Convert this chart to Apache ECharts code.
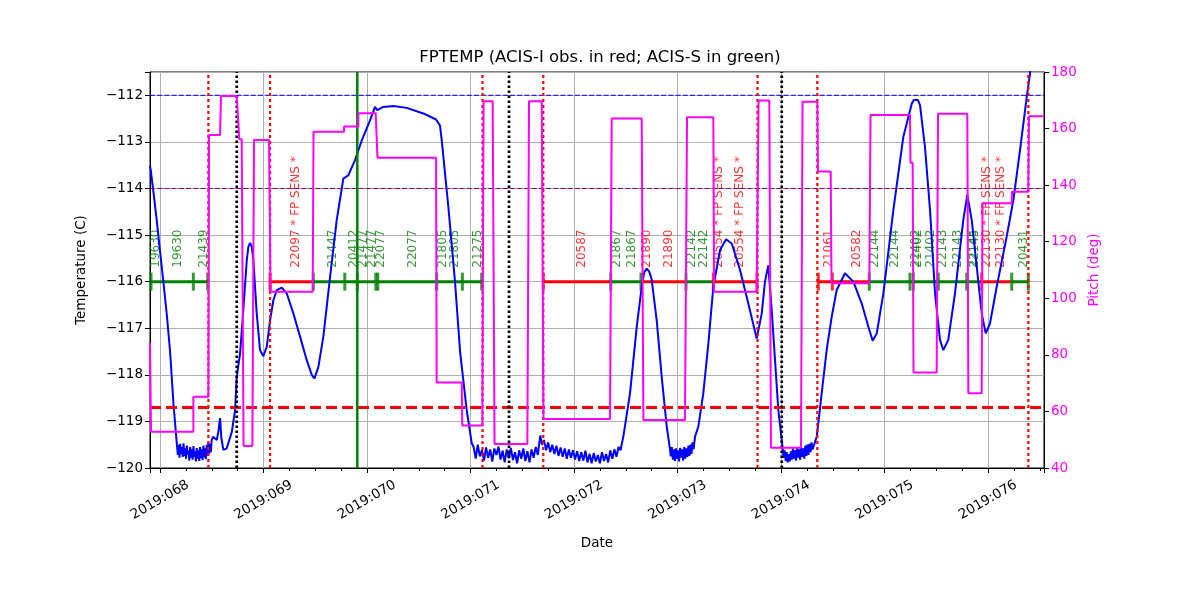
<!DOCTYPE html>
<html><head><meta charset="utf-8">
<script src="https://cdn.jsdelivr.net/npm/echarts@6/dist/echarts.min.js"></script>
<style>html,body{margin:0;padding:0;background:#fff}#c{width:1200px;height:600px}</style>
</head><body><div id="c"></div>
<script>
const TITLE = 'FPTEMP (ACIS-I obs. in red; ACIS-S in green)';
const X_MIN = 67.903, X_MAX = 76.541;
const T_MIN = -120, T_MAX = -111.5;
const PITCH_MIN = 40, PITCH_MAX = 180;
const T_PLAN_LIMIT = -112;
const T_MID_LINE = -114;
const T_LOW_LINE = -118.7;
const OBS_LEVEL = -116;

// FPTEMP (day of year 2019, deg C)
const TEMP = [
[67.903,-113.52],[67.910,-113.6],[67.935,-114.05],[67.968,-114.68],[68.000,-115.35],[68.032,-116.0],[68.065,-116.7],[68.097,-117.5],[68.129,-118.6],[68.161,-119.45],
[68.165,-119.45],[68.172,-119.72],[68.180,-119.50],[68.188,-119.78],[68.195,-119.48],[68.203,-119.70],[68.211,-119.55],[68.219,-119.76],[68.227,-119.47],[68.235,-119.74],[68.243,-119.58],[68.251,-119.80],[68.259,-119.52],[68.267,-119.71],[68.275,-119.62],[68.283,-119.84],[68.291,-119.55],[68.299,-119.78],[68.307,-119.60],[68.315,-119.82],[68.323,-119.53],[68.331,-119.76],[68.339,-119.64],[68.347,-119.86],[68.355,-119.57],[68.363,-119.80],[68.371,-119.62],[68.379,-119.85],[68.387,-119.55],[68.395,-119.79],[68.403,-119.60],[68.411,-119.83],[68.419,-119.52],[68.427,-119.77],[68.435,-119.58],[68.443,-119.81],[68.451,-119.50],[68.459,-119.74],[68.467,-119.45],[68.475,-119.70],[68.483,-119.48],[68.491,-119.66],[68.499,-119.40],
[68.512,-119.33],[68.548,-119.40],[68.565,-119.2],[68.580,-118.93],[68.592,-119.35],[68.612,-119.61],[68.644,-119.58],[68.693,-119.23],[68.725,-118.76],[68.741,-118.04],[68.773,-117.55],[68.805,-116.6],[68.838,-115.54],[68.854,-115.25],[68.870,-115.17],[68.886,-115.25],[68.902,-115.54],[68.934,-116.68],[68.966,-117.47],[68.998,-117.6],[69.031,-117.4],[69.063,-116.83],[69.095,-116.4],[69.128,-116.18],[69.176,-116.13],[69.224,-116.25],[69.288,-116.68],[69.353,-117.18],[69.417,-117.68],[69.466,-118.0],[69.491,-118.08],[69.530,-117.83],[69.578,-117.18],[69.643,-115.9],[69.707,-114.68],[69.771,-113.79],[69.819,-113.72],[69.884,-113.39],[69.949,-112.97],[70.029,-112.54],[70.077,-112.25],[70.099,-112.32],[70.157,-112.25],[70.254,-112.23],[70.383,-112.27],[70.544,-112.39],[70.667,-112.52],[70.705,-112.65],[70.722,-112.97],[70.786,-114.4],[70.850,-116.0],[70.899,-117.5],[70.963,-118.76],[71.012,-119.47],
[71.03,-119.55],[71.05,-119.80],[71.07,-119.50],[71.09,-119.75],[71.11,-119.62],[71.13,-119.84],[71.15,-119.56],[71.17,-119.78],[71.19,-119.60],[71.21,-119.86],[71.23,-119.58],[71.25,-119.72],[71.27,-119.54],[71.29,-119.82],[71.31,-119.63],[71.33,-119.88],[71.35,-119.60],[71.37,-119.79],[71.39,-119.57],[71.41,-119.83],[71.43,-119.66],[71.45,-119.90],[71.47,-119.62],[71.49,-119.80],[71.51,-119.58],[71.53,-119.85],[71.55,-119.64],[71.57,-119.88],[71.59,-119.60],[71.61,-119.78],[71.63,-119.55],[71.65,-119.72],[71.665,-119.45],[71.675,-119.30],[71.69,-119.50],
[71.71,-119.40],[71.73,-119.62],[71.75,-119.45],[71.77,-119.66],[71.79,-119.50],[71.81,-119.70],[71.83,-119.52],[71.85,-119.74],[71.87,-119.56],[71.89,-119.76],[71.91,-119.58],[71.93,-119.80],[71.95,-119.60],[71.97,-119.78],[71.99,-119.62],[72.01,-119.82],[72.03,-119.64],[72.05,-119.85],[72.07,-119.66],[72.09,-119.84],[72.11,-119.63],[72.13,-119.88],[72.15,-119.70],[72.17,-119.90],[72.19,-119.68],[72.21,-119.86],[72.23,-119.72],[72.25,-119.90],[72.27,-119.66],[72.29,-119.85],[72.31,-119.70],[72.33,-119.88],[72.35,-119.62],[72.37,-119.80],[72.39,-119.60],[72.41,-119.76],[72.43,-119.55],[72.45,-119.62],[72.46,-119.50],
[72.476,-119.33],[72.541,-118.4],[72.606,-116.97],[72.654,-116.11],[72.678,-115.8],[72.702,-115.72],[72.726,-115.78],[72.750,-115.95],[72.799,-116.83],[72.847,-118.04],[72.896,-119.11],[72.928,-119.61],
[72.935,-119.75],[72.945,-119.55],[72.955,-119.82],[72.965,-119.60],[72.975,-119.85],[72.985,-119.58],[72.995,-119.80],[73.005,-119.62],[73.015,-119.86],[73.025,-119.57],[73.035,-119.78],[73.045,-119.60],[73.055,-119.84],[73.065,-119.55],[73.075,-119.80],[73.085,-119.58],[73.095,-119.76],[73.105,-119.52],[73.115,-119.74],[73.125,-119.50],[73.135,-119.70],[73.145,-119.45],[73.155,-119.60],
[73.169,-119.33],[73.201,-119.11],[73.249,-118.4],[73.298,-117.33],[73.346,-116.11],[73.411,-115.32],[73.469,-115.09],[73.524,-115.18],[73.604,-115.75],[73.684,-116.47],[73.765,-117.22],[73.814,-116.68],[73.845,-116.0],[73.877,-115.65],[73.910,-116.61],[73.942,-117.68],[73.974,-118.76],[74.007,-119.4],
[74.015,-119.55],[74.025,-119.78],[74.035,-119.62],[74.045,-119.85],[74.055,-119.66],[74.065,-119.88],[74.075,-119.70],[74.085,-119.86],[74.095,-119.64],[74.105,-119.82],[74.115,-119.58],[74.125,-119.80],[74.135,-119.62],[74.145,-119.84],[74.155,-119.56],[74.165,-119.78],[74.175,-119.60],[74.185,-119.82],[74.195,-119.55],[74.205,-119.76],[74.215,-119.58],[74.225,-119.80],[74.235,-119.52],[74.245,-119.74],[74.255,-119.50],[74.265,-119.72],[74.275,-119.48],[74.285,-119.66],[74.295,-119.45],[74.305,-119.60],
[74.345,-119.33],[74.393,-118.4],[74.441,-117.47],[74.490,-116.75],[74.538,-116.18],[74.618,-115.82],[74.699,-116.0],[74.780,-116.47],[74.844,-116.97],[74.886,-117.27],[74.925,-117.11],[74.989,-116.25],[75.085,-114.47],[75.182,-112.89],[75.263,-112.18],[75.282,-112.1],[75.301,-112.06],[75.322,-112.1],[75.343,-112.21],[75.391,-113.11],[75.440,-114.47],[75.488,-116.25],[75.536,-117.25],[75.568,-117.47],[75.616,-117.25],[75.681,-116.25],[75.761,-114.68],[75.800,-114.14],[75.843,-114.68],[75.891,-115.68],[75.939,-116.68],[75.978,-117.11],[76.019,-116.9],[76.084,-116.11],[76.180,-115.04],[76.245,-114.25],[76.309,-113.18],[76.374,-112.04],[76.406,-111.53],[76.425,-111.2]
];

// Pitch (deg)
const PITCH = [
[67.903,84.2],[67.913,52.8],[68.322,52.8],[68.322,65.2],[68.467,65.2],[68.473,157.7],[68.580,157.7],[68.589,171.5],[68.741,171.5],[68.766,156.2],[68.789,156.2],[68.807,47.8],[68.892,47.8],[68.908,156.0],[69.053,156.0],[69.068,102.3],[69.475,102.3],[69.483,158.9],[69.778,158.9],[69.778,160.7],[69.916,160.7],[69.916,165.4],[70.084,165.4],[70.101,149.7],[70.667,149.7],[70.673,70.2],[70.915,70.2],[70.920,55.0],[71.114,55.0],[71.126,169.7],[71.214,169.7],[71.232,48.5],[71.549,48.5],[71.565,169.7],[71.688,169.7],[71.705,57.3],[72.348,57.3],[72.364,163.6],[72.654,163.6],[72.670,57.0],[73.072,57.0],[73.092,164.0],[73.346,164.0],[73.353,102.3],[73.765,102.3],[73.783,169.9],[73.887,169.9],[73.903,47.2],[74.193,47.2],[74.208,169.5],[74.351,169.5],[74.357,144.8],[74.480,144.8],[74.488,105.3],[74.853,105.3],[74.865,164.8],[75.246,164.8],[75.251,147.9],[75.272,147.9],[75.280,73.8],[75.504,73.8],[75.517,165.2],[75.800,165.2],[75.810,66.4],[75.939,66.4],[75.947,133.6],[76.229,133.6],[76.232,137.7],[76.389,137.7],[76.396,164.4],[76.541,164.4]
];

// Observation intervals [start, stop]
const OBS_ACIS_S = [[67.913,68.467],[69.475,71.113],[72.355,72.657],[73.079,73.346],[74.853,75.939],[76.229,76.389]];
const OBS_ACIS_I = [[69.063,69.475],[71.703,72.355],[72.657,73.079],[73.346,73.768],[74.351,74.853],[75.939,76.229]];
const TICKS_ACIS_S = [67.913,68.322,68.461,69.481,69.785,69.906,70.085,70.104,70.673,70.921,71.108,72.355,72.647,73.082,74.853,75.246,75.278,75.520,75.794,76.229,76.389];
const TICKS_ACIS_I = [69.063,71.703,73.346,73.768,74.360,74.496,75.939];
const LABELS_ACIS_S = [
[67.961,'19630'],[68.177,'19630'],[68.425,'21439'],[69.669,'21447'],[69.874,'20412'],[69.958,'21477'],[70.045,'21477'],[70.132,'22077'],[70.442,'22077'],[70.731,'21805'],[70.850,'21805'],[71.075,'21275'],[72.413,'21867'],[72.558,'21867'],[73.137,'22142'],[73.256,'22142'],[74.908,'22144'],[75.101,'22144'],[75.304,'22402'],[75.319,'21402'],[75.446,'21402'],[75.568,'22143'],[75.713,'22143'],[75.850,'22145'],[75.870,'22145'],[76.348,'20431']
];
const LABELS_ACIS_I = [
[69.311,'22097 * FP SENS *'],[72.074,'20587'],[72.708,'21890'],[72.921,'21890'],[73.401,'20554 * FP SENS *'],[73.604,'20554 * FP SENS *'],[74.467,'21061'],[74.737,'20582'],[75.993,'22130 * FP SENS *'],[76.126,'22130 * FP SENS *']
];
const RED_VLINES = [68.467,69.063,71.116,71.703,73.773,74.351,76.390];
const BLACK_VLINES = [68.741,71.372,74.007];
const GREEN_VLINES = [69.906];

const FONT = 'DejaVu Sans';
const GREEN = '#008000', RED = '#ff0000', MAGENTA = '#ff00ff', BLUE = '#0000ff';

const series = [];
function hline(v, color, width, dash, z) {
  series.push({type:'line', xAxisIndex:0, yAxisIndex:0, data:[[X_MIN,v],[X_MAX,v]], symbol:'none', silent:true, z:z,
    lineStyle:{color:color, width:width, type:dash}, animation:false});
}
function vline(d, color, width, dash, z) {
  series.push({type:'line', xAxisIndex:0, yAxisIndex:0, data:[[d,T_MIN],[d,T_MAX]], symbol:'none', silent:true, z:z,
    lineStyle:{color:color, width:width, type:dash}, animation:false});
}
OBS_ACIS_S.forEach(s => series.push({type:'line', data:[[s[0],OBS_LEVEL],[s[1],OBS_LEVEL]], symbol:'none', z:2, lineStyle:{color:GREEN,width:3}}));
OBS_ACIS_I.forEach(s => series.push({type:'line', data:[[s[0],OBS_LEVEL],[s[1],OBS_LEVEL]], symbol:'none', z:2, lineStyle:{color:RED,width:3}}));
series.push({type:'scatter', data:TICKS_ACIS_S.map(d=>[d,OBS_LEVEL]), symbol:'rect', symbolSize:[3,18], itemStyle:{color:GREEN}, z:2});
series.push({type:'scatter', data:TICKS_ACIS_I.map(d=>[d,OBS_LEVEL]), symbol:'rect', symbolSize:[3,18], itemStyle:{color:RED}, z:2});
function labels(list, color) {
  series.push({type:'scatter', data:list.map(l=>({value:[l[0], OBS_LEVEL+0.3], name:l[1]})), symbol:'circle', symbolSize:2,
    itemStyle:{color:'rgba(0,0,0,0)'}, z:2,
    label:{show:true, position:'inside', formatter:p=>p.name, rotate:90, align:'left', verticalAlign:'middle', color:color, fontSize:12, fontFamily:FONT}});
}
labels(LABELS_ACIS_S, GREEN);
labels(LABELS_ACIS_I, RED);
series.push({type:'line', name:'FPTEMP', data:TEMP, symbol:'none', z:3, lineStyle:{color:BLUE, width:2}});
hline(T_PLAN_LIMIT, BLUE, 1, [5,2.2], 4);
hline(T_MID_LINE, '#800080', 1, [5,2.2], 4);
hline(T_LOW_LINE, RED, 3, [11,5], 4);
RED_VLINES.forEach(d => vline(d, RED, 2.2, [3,3], 4));
BLACK_VLINES.forEach(d => vline(d, '#000', 2.7, [2.5,2.5], 4));
GREEN_VLINES.forEach(d => vline(d, GREEN, 2.5, 'solid', 4));
series.push({type:'line', name:'Pitch', yAxisIndex:1, data:PITCH, symbol:'none', z:5, lineStyle:{color:MAGENTA, width:2}});

const chart = echarts.init(document.getElementById('c'));
chart.setOption({
  animation:false,
  backgroundColor:'#fff',
  textStyle:{fontFamily:FONT},
  title:{text:TITLE, left:'center', top:49, padding:0, textStyle:{fontFamily:FONT, fontSize:16.5, fontWeight:'normal', color:'#000'}},
  grid:{left:150, right:156, top:72, bottom:132, show:true, borderColor:'#000', borderWidth:1, backgroundColor:'transparent'},
  xAxis:{type:'value', min:X_MIN, max:X_MAX, splitNumber:8, name:'Date', nameLocation:'middle', nameGap:68,
    nameTextStyle:{fontSize:13.5, color:'#000', fontFamily:FONT},
    axisLine:{show:true, onZero:false, lineStyle:{color:'#000'}},
    axisTick:{show:true, length:5, lineStyle:{color:'#000'}},
    minorTick:{show:true, splitNumber:4, length:3, lineStyle:{color:'#000'}},
    splitLine:{show:true, lineStyle:{color:'#b0b0b0', width:1}},
    axisLabel:{rotate:30, align:'center', verticalAlign:'middle', margin:32, fontSize:13.5, color:'#000', fontFamily:FONT,
      formatter:v => Math.abs(v-Math.round(v))>1e-6 ? '' : '2019:' + String(Math.round(v)).padStart(3,'0')}},
  yAxis:[
    {type:'value', min:T_MIN, max:T_MAX, interval:1, position:'left', name:'Temperature (C)', nameLocation:'middle', nameGap:62, nameRotate:90,
      nameTextStyle:{fontSize:13.5, color:'#000', fontFamily:FONT},
      axisLine:{show:true, lineStyle:{color:'#000'}}, axisTick:{show:true, length:5, lineStyle:{color:'#000'}},
      splitLine:{show:true, lineStyle:{color:'#b0b0b0', width:1}},
      axisLabel:{fontSize:13.5, color:'#000', fontFamily:FONT, margin:7,
        formatter:v => Math.abs(v-Math.round(v))>1e-6 ? '' : (v<0?'\u2212':'') + Math.abs(v)}},
    {type:'value', min:PITCH_MIN, max:PITCH_MAX, interval:20, position:'right', name:'Pitch (deg)', nameLocation:'middle', nameGap:42, nameRotate:90,
      nameTextStyle:{fontSize:13.5, color:MAGENTA, fontFamily:FONT},
      axisLine:{show:true, lineStyle:{color:'#000'}}, axisTick:{show:true, length:5, lineStyle:{color:'#000'}},
      splitLine:{show:false},
      axisLabel:{fontSize:13.5, color:MAGENTA, fontFamily:FONT, margin:7}}
  ],
  series:series
});
</script></body></html>
